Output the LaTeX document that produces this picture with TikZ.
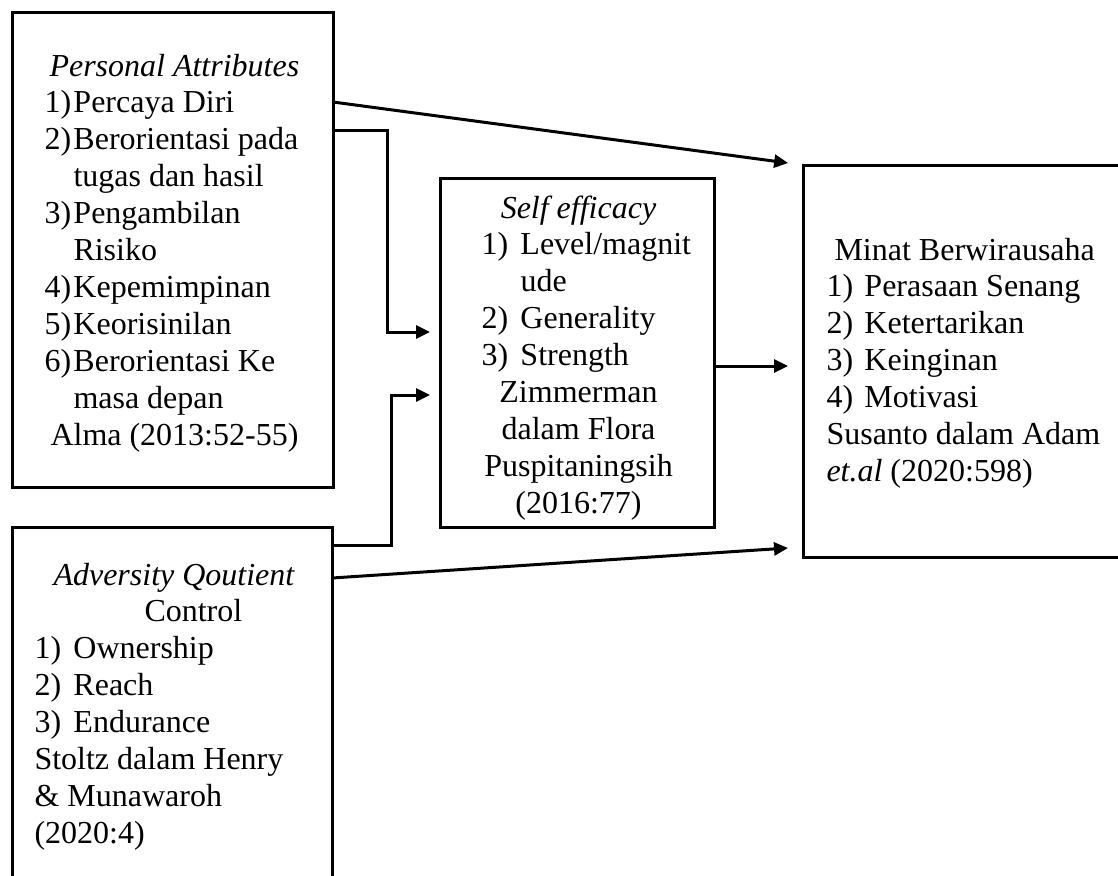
\documentclass[tikz,border=0pt]{standalone}
\usepackage{fontspec}
\setmainfont{Liberation Serif}
\usetikzlibrary{arrows.meta, calc}
\newcommand{\itm}[2][19.5pt]{\makebox[#1][l]{#2}}
\newcommand{\ctr}[1]{\makebox[97pt][c]{#1}}

\begin{document}
\begin{tikzpicture}[x=0.5pt, y=-0.5pt, >={Triangle[length=7pt, width=6.5pt]}, line width=1.5pt,
  every node/.style={font=\fontsize{16}{18.45}\selectfont, inner sep=0pt},
  box/.style={draw, rectangle, outer sep=0pt, anchor=north west}]
  \useasboundingbox (0,0) rectangle (1118,875);
  \clip (0,0) rectangle (1118,875);
  % boxes
  \node[box, minimum width=160.5pt, minimum height=237.5pt] (attr) at (12,12) {};
  \node[box, minimum width=160pt, minimum height=250pt] (aq) at (12,527) {};
  \node[box, minimum width=137pt, minimum height=174.5pt] (self) at (440,178) {};
  \node[box, minimum width=220pt, minimum height=196pt] (minat) at (803,165) {};
  % texts
  \node[anchor=base west] (attrtxt) at (43,76) {\begin{tabular}[t]{@{}l@{}}
    \hspace*{2.5pt}\textit{Personal Attributes}\\
    \itm[14.5pt]{1)}Percaya Diri\\
    \itm[14.5pt]{2)}Berorientasi pada\\
    \hspace*{14.5pt}tugas dan hasil\\
    \itm[14.5pt]{3)}Pengambilan\\
    \hspace*{14.5pt}Risiko\\
    \itm[14.5pt]{4)}Kepemimpinan\\
    \itm[14.5pt]{5)}Keorisinilan\\
    \itm[14.5pt]{6)}Berorientasi Ke\\
    \hspace*{14.5pt}masa depan\\
    \hspace*{3pt}Alma (2013:52-55)
  \end{tabular}};
  \node[anchor=base west] (aqtxt) at (33,585) {\begin{tabular}[t]{@{}l@{}}
    \hspace*{9.5pt}\textit{Adversity Qoutient}\\
    \hspace*{55pt}Control\\
    \itm{1)}Ownership\\
    \itm{2)}Reach\\
    \itm{3)}Endurance\\
    Stoltz dalam Henry\\
    \& Munawaroh\\
    (2020:4)
  \end{tabular}};
  \node[anchor=base west] (selftxt) at (480,218) {\begin{tabular}[t]{@{}l@{}}
    \ctr{\textit{Self efficacy}}\\
    \itm{1)}Level/magnit\\
    \hspace*{19.5pt}ude\\
    \itm{2)}Generality\\
    \itm{3)}Strength\\
    \ctr{Zimmerman}\\
    \ctr{dalam Flora}\\
    \ctr{Puspitaningsih}\\
    \ctr{(2016:77)}
  \end{tabular}};
  \node[anchor=base west] (minattxt) at (825,260) {\begin{tabular}[t]{@{}l@{}}
    \hspace*{4pt}Minat Berwirausaha\\
    \itm[19pt]{1)}Perasaan Senang\\
    \itm[19pt]{2)}Ketertarikan\\
    \itm[19pt]{3)}Keinginan\\
    \itm[19pt]{4)}Motivasi\\
    Susanto dalam Adam\\
    \textit{et.al} (2020:598)
  \end{tabular}};
  % arrows
  \draw[->, shorten >=7.5pt] ($(attr.north east)+(0,90)$) -- (minat.north west);
  \draw[->, shorten >=5pt] ($(attr.north east)+(0,118)$) -- ++(54,0) |- ($(self.north west)+(0,154)$);
  \draw[->, shorten >=5pt] ($(aq.north east)+(0,18)$) -- ++(59,0) |- ($(self.north west)+(0,217)$);
  \draw[->, shorten >=7.5pt] ($(self.north east)+(0,188)$) -- ($(minat.north west)+(0,201)$);
  \draw[->, shorten >=7.5pt] ($(aq.north east)+(0,51)$) -- ($(minat.south west)+(0,-10)$);
\end{tikzpicture}
\end{document}
